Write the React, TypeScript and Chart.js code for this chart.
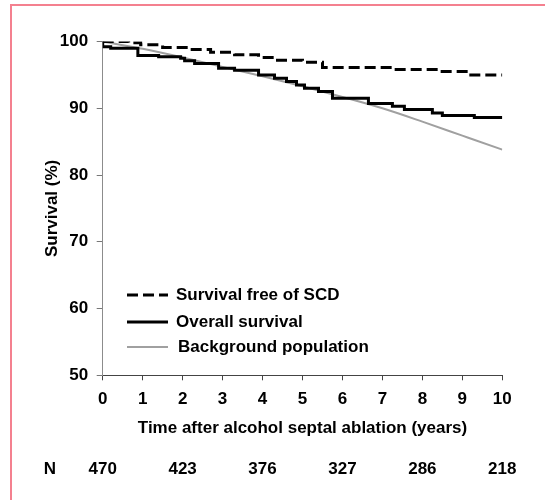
import React, { useEffect, useRef } from "react";
import { Chart, registerables } from "chart.js";

Chart.register(...registerables);

// Survival free of SCD (step curve: value holds from the given year onward)
const sfreeYears = [0, 0.65, 0.95, 1.5, 2.2, 2.7, 3.3, 3.9, 4.3, 5.0, 5.5, 7.25, 8.45, 9.15, 10];
const sfreeValues = [100, 99.8, 99.5, 99.1, 98.8, 98.4, 98.0, 97.6, 97.2, 96.9, 96.1, 95.8, 95.5, 95.0, 95.0];

// Overall survival (step curve)
const overallYears = [0, 0, 0.2, 0.88, 1.4, 1.95, 2.05, 2.3, 2.9, 3.3, 3.9, 4.3, 4.6, 4.85, 5.05, 5.4, 5.75, 6.65, 7.25, 7.55, 8.25, 8.5, 9.3, 10];
const overallValues = [100, 99.2, 99.0, 97.9, 97.7, 97.5, 97.1, 96.7, 96.0, 95.7, 95.0, 94.5, 94.0, 93.5, 93.0, 92.5, 91.5, 90.7, 90.3, 89.8, 89.3, 88.9, 88.6, 88.6];

// Background population (smooth expected survival)
const backgroundYears = [0, 1, 2, 3, 4, 5, 6, 7, 8, 9, 10];
const backgroundValues = [100, 98.9, 97.6, 96.2, 94.8, 93.3, 91.7, 90.0, 88.0, 85.9, 83.8];

const seriesLabels = ["Survival free of SCD", "Overall survival", "Background population"];

// Number at risk
const riskYears = [0, 2, 4, 6, 8, 10];
const riskCounts = [470, 423, 376, 327, 286, 218];

const xMin = 0;
const xMax = 10;
const yMin = 50;
const yMax = 100;

const FONT_FAMILY = '"Liberation Sans", Arial, Helvetica, sans-serif';

const toPoints = (xs: number[], ys: number[]) => xs.map((x, i) => ({ x, y: ys[i] }));

const extrasPlugin = {
  id: "extras",
  afterDatasetsDraw(chart: any) {
    const ctx = chart.ctx;
    ctx.save();
    const font = `bold 17px ${FONT_FAMILY}`;
    const legendY = [295, 322, 347];
    chart.data.datasets.forEach((ds: any, i: number) => {
      const y = legendY[i];
      ctx.beginPath();
      ctx.setLineDash(ds.borderDash || []);
      ctx.strokeStyle = ds.borderColor;
      ctx.lineWidth = ds.borderWidth;
      ctx.moveTo(127, y);
      ctx.lineTo(168, y);
      ctx.stroke();
      ctx.setLineDash([]);
      ctx.fillStyle = "#000";
      ctx.font = font;
      ctx.textBaseline = "middle";
      ctx.textAlign = "left";
      ctx.fillText(ds.label, i === 2 ? 178 : 176, y);
    });
    const xs = chart.scales.x;
    ctx.fillStyle = "#000";
    ctx.font = font;
    ctx.textBaseline = "middle";
    ctx.textAlign = "center";
    ctx.fillText("N", 50, 469);
    riskYears.forEach((yr, i) => {
      ctx.fillText(String(riskCounts[i]), xs.getPixelForValue(yr), 469);
    });
    ctx.restore();
  },
};

export default function App() {
  const canvasRef = useRef<HTMLCanvasElement | null>(null);

  useEffect(() => {
    const canvas = canvasRef.current;
    if (!canvas) return;
    const chart = new Chart(canvas, {
      type: "line",
      data: {
        datasets: [
          {
            label: seriesLabels[0],
            data: toPoints(sfreeYears, sfreeValues),
            borderColor: "#000000",
            borderWidth: 3,
            borderDash: [11, 5],
            stepped: "before",
            pointRadius: 0,
            fill: false,
          },
          {
            label: seriesLabels[1],
            data: toPoints(overallYears, overallValues),
            borderColor: "#000000",
            borderWidth: 3,
            stepped: "before",
            pointRadius: 0,
            fill: false,
          },
          {
            label: seriesLabels[2],
            data: toPoints(backgroundYears, backgroundValues),
            borderColor: "#a0a0a0",
            borderWidth: 2,
            cubicInterpolationMode: "monotone",
            pointRadius: 0,
            fill: false,
          },
        ] as any,
      },
      options: {
        animation: false,
        responsive: false,
        maintainAspectRatio: false,
        layout: { padding: { top: 41.5, right: 42.7, bottom: 0, left: 0 } },
        plugins: {
          legend: { display: false },
          tooltip: { enabled: false },
        },
        scales: {
          x: {
            type: "linear",
            min: xMin,
            max: xMax,
            afterFit: (scale: any) => {
              scale.height = 124.7;
            },
            ticks: {
              stepSize: 1,
              color: "#000",
              padding: 9,
              maxRotation: 0,
              font: { family: FONT_FAMILY, size: 17, weight: "bold" },
            },
            grid: {
              drawOnChartArea: false,
              drawTicks: true,
              tickLength: 5,
              color: "#444",
            },
            border: { display: true, color: "#444", width: 1 },
            title: {
              display: true,
              text: "Time after alcohol septal ablation (years)",
              color: "#000",
              font: { family: FONT_FAMILY, size: 17, weight: "bold" },
              padding: { top: 0, bottom: 61 },
            },
          },
          y: {
            type: "linear",
            min: yMin,
            max: yMax,
            afterFit: (scale: any) => {
              scale.width = 102.7;
            },
            ticks: {
              stepSize: 10,
              color: "#000",
              padding: 8.5,
              font: { family: FONT_FAMILY, size: 17, weight: "bold" },
            },
            grid: {
              drawOnChartArea: false,
              drawTicks: true,
              tickLength: 6,
              color: "#777",
            },
            border: { display: true, color: "#8c8c8c", width: 1 },
            title: {
              display: true,
              text: "Survival (%)",
              color: "#000",
              font: { family: FONT_FAMILY, size: 17, weight: "bold" },
              padding: { top: 42, bottom: 0 },
            },
          },
        },
      } as any,
      plugins: [extrasPlugin],
    });
    return () => chart.destroy();
  }, []);

  return (
    <div style={{ position: "absolute", left: 0, top: 0, width: 545, height: 500, background: "#fff", overflow: "hidden" }}>
      <div
        style={{
          position: "absolute",
          left: 10,
          top: 4,
          width: 560,
          height: 520,
          borderTop: "2px solid #f4808f",
          borderLeft: "2px solid #f4808f",
          boxSizing: "border-box",
        }}
      />
      <canvas ref={canvasRef} width={545} height={500} style={{ position: "absolute", left: 0, top: 0, display: "block" }} />
    </div>
  );
}
